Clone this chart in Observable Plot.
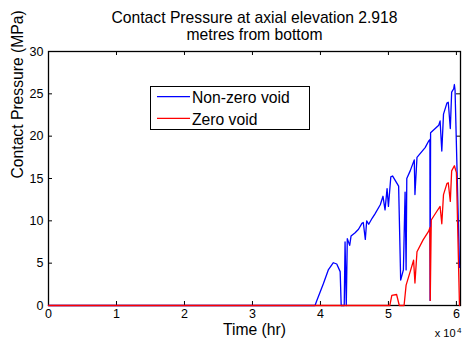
<!DOCTYPE html>
<html>
<head>
<meta charset="utf-8">
<script src="https://cdn.jsdelivr.net/npm/d3@7"></script>
<script src="https://cdn.jsdelivr.net/npm/@observablehq/plot@0.6"></script>
<style>
  html, body { margin: 0; padding: 0; background: white; }
  #wrap { position: relative; width: 462px; height: 339px; overflow: hidden; }
  #legend { position: absolute; left: 0; top: 0; }
</style>
</head>
<body>
<div id="wrap"></div>
<script>
// ---- data (time in hours, contact pressure in MPa) ----
const blueTime = [0, 39200, 39470, 40440, 41180, 41900, 42400, 42900, 43050, 43500, 43620, 43800, 43950, 44300, 44500, 45100, 45600, 46100, 46300, 46600, 46800, 47100, 47600, 48000, 48800, 49200, 49500, 49800, 50000, 50350, 50600, 51500, 51800, 52200, 52450, 52600, 52700, 53200, 53800, 53900, 54200, 55400, 55900, 56100, 56130, 56200, 57400, 57600, 57850, 58100, 58600, 58800, 59100, 59300, 59600, 59700, 59800, 60450];
const bluePressure = [0, 0, 0.6, 2.6, 4.25, 5.05, 4.9, 4.0, 0, 0, 7.5, 0, 7.9, 7.1, 8.2, 8.6, 9.0, 9.7, 9.8, 7.8, 10.0, 9.6, 10.3, 10.8, 11.9, 12.9, 11.3, 13.8, 11.7, 15.2, 15.3, 14.1, 3.0, 4.2, 13.4, 4.2, 15.0, 15.9, 17.2, 13.1, 17.5, 18.65, 19.4, 19.6, 0.6, 20.4, 21.3, 21.8, 18.25, 22.6, 23.9, 24.0, 20.9, 25.2, 25.6, 26.1, 25.4, 4.5];

const redTime = [0, 50200, 50500, 51200, 51600, 52300, 52600, 53200, 53700, 53900, 54200, 55100, 55900, 56100, 56150, 56300, 57100, 57600, 57850, 58100, 58600, 58800, 59100, 59300, 59700, 60000, 60450];
const redPressure = [0, 0, 1.2, 1.3, 0, 0, 2.4, 4.0, 5.35, 2.65, 6.35, 7.75, 8.75, 9.2, 0.6, 10.1, 11.1, 11.7, 9.65, 13.1, 14.4, 14.5, 12.3, 15.9, 16.5, 15.7, 0];

const xTicks = [0, 10000, 20000, 30000, 40000, 50000, 60000];
const yTicks = [0, 5, 10, 15, 20, 25, 30];
const seriesNames = ["Non-zero void", "Zero void"];
const seriesColors = ["#0000ff", "#ff0000"];
const titleLines = ["Contact Pressure at axial elevation 2.918", "metres from bottom"];
const xLabel = "Time (hr)";
const yLabel = "Contact Pressure (MPa)";

const blue = blueTime.map((t, i) => ({t, p: bluePressure[i]}));
const red = redTime.map((t, i) => ({t, p: redPressure[i]}));

const font = "'Liberation Sans', Arial, Helvetica, sans-serif";
const bigFont = 15.7;

const chart = Plot.plot({
  width: 462,
  height: 339,
  marginLeft: 48,
  marginRight: 2,
  marginTop: 51,
  marginBottom: 34,
  style: {fontFamily: font, fontSize: "12.5px", background: "white", color: "black", overflow: "visible"},
  x: {domain: [0, 60600]},
  y: {domain: [0, 30]},
  marks: [
    Plot.frame({stroke: "black", strokeWidth: 1.3}),
    Plot.tickX(xTicks, {x: d => d, insetTop: 250, stroke: "black"}),
    Plot.tickX(xTicks, {x: d => d, insetBottom: 250, stroke: "black"}),
    Plot.tickY(yTicks, {y: d => d, insetRight: 408, stroke: "black"}),
    Plot.tickY(yTicks, {y: d => d, insetLeft: 408, stroke: "black"}),
    Plot.line(blue, {x: "t", y: "p", stroke: seriesColors[0], strokeWidth: 1.3}),
    Plot.line(red, {x: "t", y: "p", stroke: seriesColors[1], strokeWidth: 1.3}),
    Plot.axisX({ticks: xTicks, tickSize: 0, tickPadding: 4, tickFormat: d => String(d / 1e4), label: null, fontSize: 12.5}),
    Plot.axisY({ticks: yTicks, tickSize: 0, tickPadding: 5, label: null, fontSize: 12.5}),
    Plot.text([titleLines[0]], {text: d => d, frameAnchor: "top", lineAnchor: "top", dy: -39.5, fontSize: bigFont}),
    Plot.text([titleLines[1]], {text: d => d, frameAnchor: "top", lineAnchor: "top", dy: -23, fontSize: bigFont}),
    Plot.text([xLabel], {text: d => d, frameAnchor: "bottom", lineAnchor: "top", dy: 18, fontSize: bigFont}),
    Plot.text([yLabel], {text: d => d, frameAnchor: "left", rotate: -90, dx: -31, fontSize: bigFont}),
    Plot.text(["x 10"], {text: d => d, frameAnchor: "bottom-right", textAnchor: "end", lineAnchor: "top", dx: -5, dy: 23.5, fontSize: 11}),
    Plot.text(["4"], {text: d => d, frameAnchor: "bottom-right", textAnchor: "start", lineAnchor: "top", dx: -3.5, dy: 21.5, fontSize: 8})
  ]
});

const wrap = document.getElementById("wrap");
wrap.appendChild(chart);

// legend overlay
const ns = "http://www.w3.org/2000/svg";
const leg = document.createElementNS(ns, "svg");
leg.setAttribute("id", "legend");
leg.setAttribute("width", 462);
leg.setAttribute("height", 339);
const box = document.createElementNS(ns, "rect");
box.setAttribute("x", 150.5); box.setAttribute("y", 86.5);
box.setAttribute("width", 159); box.setAttribute("height", 43);
box.setAttribute("fill", "white"); box.setAttribute("stroke", "black");
leg.appendChild(box);
const rowY = [96.7, 118.3];
const baseY = [102.5, 124.5];
seriesNames.forEach((name, i) => {
  const ln = document.createElementNS(ns, "line");
  ln.setAttribute("x1", 157); ln.setAttribute("x2", 190);
  ln.setAttribute("y1", rowY[i]); ln.setAttribute("y2", rowY[i]);
  ln.setAttribute("stroke", seriesColors[i]); ln.setAttribute("stroke-width", 1.3);
  leg.appendChild(ln);
  const tx = document.createElementNS(ns, "text");
  tx.setAttribute("x", 192); tx.setAttribute("y", baseY[i]);
  tx.setAttribute("font-family", font); tx.setAttribute("font-size", bigFont);
  tx.setAttribute("fill", "black");
  tx.textContent = name;
  leg.appendChild(tx);
});
wrap.appendChild(leg);
</script>
</body>
</html>
